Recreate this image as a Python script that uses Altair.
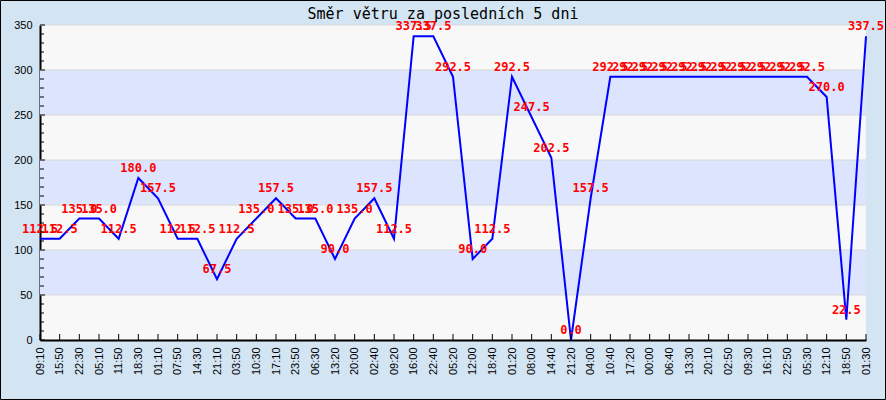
import altair as alt
import pandas as pd

title_text = "Směr větru za posledních 5 dni"
times = ["09:10", "15:50", "22:30", "05:10", "11:50", "18:30", "01:10", "07:50", "14:30", "21:10",
         "03:50", "10:30", "17:10", "23:50", "06:30", "13:20", "20:00", "02:40", "09:20", "16:00",
         "22:40", "05:20", "12:00", "18:40", "01:20", "08:00", "14:40", "21:20", "04:00", "10:40",
         "17:20", "00:00", "06:40", "13:30", "20:10", "02:50", "09:30", "16:10", "22:50", "05:30",
         "12:10", "18:50", "01:30"]
values = [112.5, 112.5, 135.0, 135.0, 112.5, 180.0, 157.5, 112.5, 112.5, 67.5,
          112.5, 135.0, 157.5, 135.0, 135.0, 90.0, 135.0, 157.5, 112.5, 337.5,
          337.5, 292.5, 90.0, 112.5, 292.5, 247.5, 202.5, 0.0, 157.5, 292.5,
          292.5, 292.5, 292.5, 292.5, 292.5, 292.5, 292.5, 292.5, 292.5, 292.5,
          270.0, 22.5, 337.5]
band_lo = [50, 150, 250]
band_hi = [100, 200, 300]
grid_vals = [50, 100, 150, 200, 250, 300, 350]
label_vals = [0, 50, 100, 150, 200, 250, 300, 350]
minor_ticks = [v for v in range(0, 351, 10) if v % 50 != 0]

W, H = 826, 315
PAD = {"left": 40, "top": 25, "right": 20, "bottom": 60}

df = pd.DataFrame({"t": times, "v": values})
bands = pd.DataFrame({"lo": band_lo, "hi": band_hi})
grid = pd.DataFrame({"g": grid_vals})
ymaj = pd.DataFrame({"y": label_vals})
ymin = pd.DataFrame({"y": minor_ticks})
tdf = pd.DataFrame({"title": [title_text]})

yscale = alt.Scale(domain=[0, 350], nice=False, zero=True)
xscale = alt.Scale(type="point", padding=0)

band_layer = alt.Chart(bands).mark_rect(color="#dde4fe").encode(
    y=alt.Y("lo:Q", scale=yscale),
    y2="hi:Q",
    x=alt.value(0),
    x2=alt.value(W),
)

grid_layer = alt.Chart(grid).mark_rule(color="#d8d8d8", strokeWidth=1).encode(
    y=alt.Y("g:Q", scale=yscale),
    x=alt.value(0),
    x2=alt.value(W),
)

line_layer = alt.Chart(df).mark_line(color="#0000ff", strokeWidth=2).encode(
    x=alt.X("t:O", sort=None, scale=xscale,
            axis=alt.Axis(title=None, labelAngle=-90, ticks=False, domain=True,
                          domainColor="black", domainWidth=2, labelFont="Liberation Sans",
                          labelFontSize=11, labelColor="black", labelPadding=7, grid=False)),
    y=alt.Y("v:Q", scale=yscale,
            axis=alt.Axis(title=None, values=label_vals, ticks=False, domain=True,
                          domainColor="black", domainWidth=2, labelFont="Liberation Sans",
                          labelFontSize=11, labelColor="black", labelPadding=8, grid=False)),
)

text_layer = alt.Chart(df).mark_text(
    color="#ff0000", font="DejaVu Sans Mono", fontSize=12, fontWeight="bold",
    align="center", baseline="alphabetic", dy=-6,
).encode(
    x=alt.X("t:O", sort=None, scale=xscale),
    y=alt.Y("v:Q", scale=yscale),
    text=alt.Text("v:Q", format=".1f"),
)

xtick_layer = alt.Chart(df).mark_rule(color="black", strokeWidth=1).encode(
    x=alt.X("t:O", sort=None, scale=xscale),
    y=alt.value(H - 6),
    y2=alt.value(H),
)

ymaj_layer = alt.Chart(ymaj).mark_rule(color="black", strokeWidth=1).encode(
    y=alt.Y("y:Q", scale=yscale),
    x=alt.value(0),
    x2=alt.value(5),
)

ymin_layer = alt.Chart(ymin).mark_rule(color="black", strokeWidth=1).encode(
    y=alt.Y("y:Q", scale=yscale),
    x=alt.value(0),
    x2=alt.value(4),
)

border_layer = alt.Chart(tdf).mark_rect(
    fill="transparent", stroke="black", strokeWidth=1
).encode(
    x=alt.value(-PAD["left"] + 0.5),
    x2=alt.value(W + PAD["right"] - 0.5),
    y=alt.value(-PAD["top"] + 0.5),
    y2=alt.value(H + PAD["bottom"] - 0.5),
)

title_layer = alt.Chart(tdf).mark_text(
    font="DejaVu Sans Mono", fontSize=15, color="black",
    align="center", baseline="alphabetic",
).encode(
    text="title:N",
    x=alt.value(W / 2 - 10),
    y=alt.value(-6),
)

chart = alt.layer(
    band_layer, grid_layer, line_layer, text_layer, xtick_layer, ymaj_layer, ymin_layer,
    border_layer, title_layer
).properties(
    width=W,
    height=H,
    autosize=alt.AutoSizeParams(type="none"),
    padding=PAD,
    background="#d3e4f3",
).configure_view(
    fill="#f8f8f8", stroke=None,
)

chart.save("out.html", embed_options={"renderer": "svg", "actions": False})
